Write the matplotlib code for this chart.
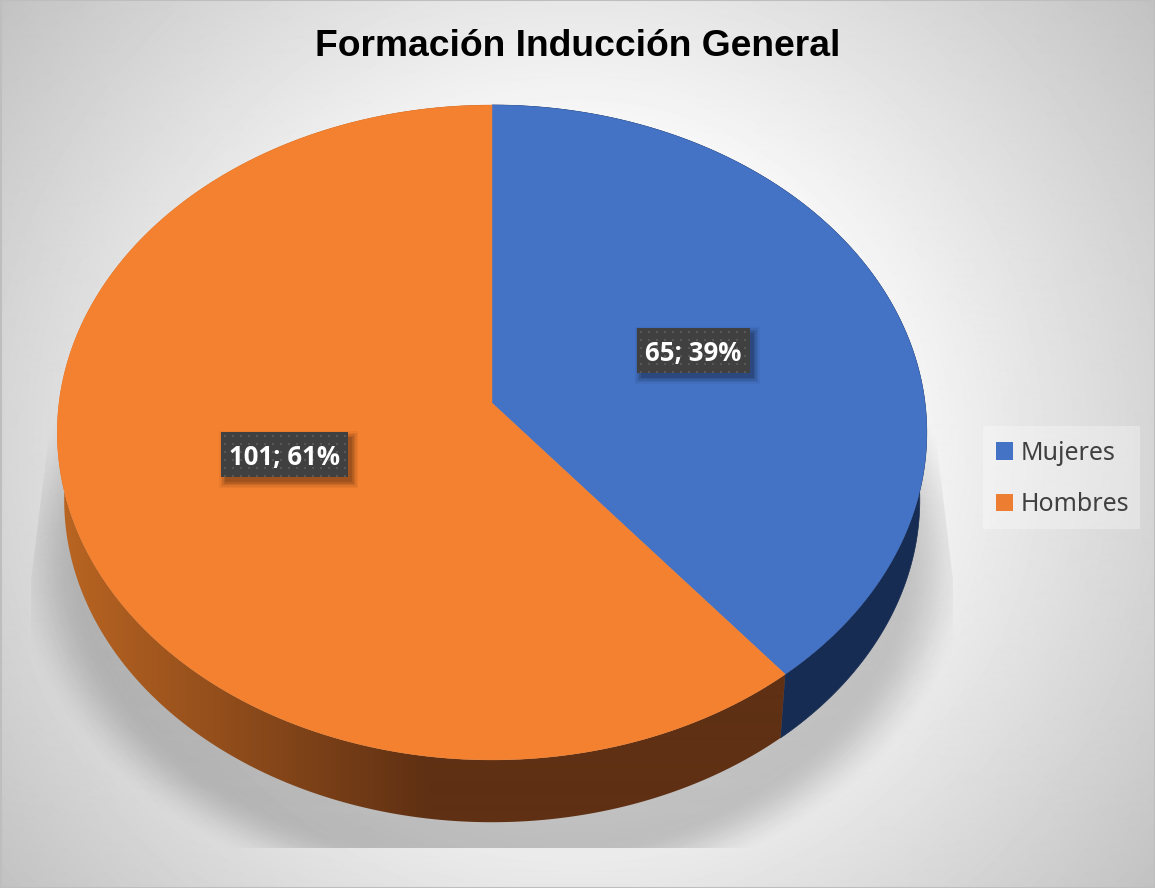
import numpy as np
import matplotlib
matplotlib.use("Agg")
import matplotlib.pyplot as plt
from matplotlib.patches import Polygon, Rectangle, Patch

# Data
categories = ["Mujeres", "Hombres"]
values = [65, 101]
percents = [39, 61]
title = "Formación Inducción General"
top_colors = ["#4472C4", "#F4812F"]
legend_colors = ["#4472C4", "#ED7D31"]

W, H = 1155, 888
fig = plt.figure(figsize=(W / 100, H / 100), dpi=100)
ax = fig.add_axes([0, 0, 1, 1])
ax.set_xlim(0, W)
ax.set_ylim(H, 0)
ax.axis("off")

# Perspective of the tilted disc
CX, CY = 492.0, 403.0
A, B, K = 433.0, 324.8, 0.09
SCALE, DROP = 0.984, 68.0


def project(x, y):
    w = 1 + K * y
    return CX + A * x / w, CY - B * y / w


def rim(a0, a1, lower=False, n=400):
    t = np.radians(np.linspace(a0, a1, n))
    px, py = project(np.sin(t), np.cos(t))
    if lower:
        px = CX + (px - CX) * SCALE
        py = CY + (py - CY) * SCALE + DROP
    return px, py


def poly(px, py):
    return np.column_stack([px, py])


# Background radial gradient
yy, xx = np.mgrid[0:H, 0:W] + 0.5
r = np.hypot(xx - 577, yy - 444)
bg = np.clip(238 - (r - 390) * 0.13, 0, 255) / 255
ax.imshow(bg, cmap="gray", vmin=0, vmax=1, extent=(0, W, H, 0), aspect="auto",
          interpolation="bilinear", zorder=0)

# Soft shadow clipped to the wall shape
d = np.hypot((xx - 492) / 482, (yy - 560) / 350)
s = np.clip((1.0 - d) / 0.15, 0, 1)
s = s * s * (3 - 2 * s)
rgba = np.zeros((H, W, 4))
rgba[..., 3] = s * 0.2
sh = ax.imshow(rgba, extent=(0, W, H, 0), aspect="auto", interpolation="bilinear", zorder=1)
clip = Polygon([(60, 345), (925, 345), (953, 580), (953, 848), (31, 848), (31, 580)],
               closed=True, transform=ax.transData, fc="none", ec="none")
ax.add_patch(clip)
sh.set_clip_path(clip)

# Angles from data
total = sum(values)
edges = np.concatenate([[0], np.cumsum(values)]) / total * 360

# Sides
bx, by = rim(edges[0], edges[1])
lx, ly = rim(edges[0], edges[1], lower=True)
ax.add_patch(Polygon(poly(np.r_[bx, lx[::-1]], np.r_[by, ly[::-1]]), closed=True,
                     fc="#172C52", ec="#172C52", lw=0.5, zorder=2))

ox, oy = rim(edges[1], edges[2])
lx, ly = rim(edges[1], edges[2], lower=True)
side = Polygon(poly(np.r_[ox, lx[::-1]], np.r_[oy, ly[::-1]]), closed=True,
               fc="none", ec="none", transform=ax.transData)
ax.add_patch(side)
tt = np.clip((xx[0] - 60) / (430 - 60), 0, 1)
c0 = np.array([0xBA, 0x65, 0x22]) / 255
c1 = np.array([0x5F, 0x30, 0x13]) / 255
grad = (c0[None, :] * (1 - tt[:, None]) + c1[None, :] * tt[:, None])[None, :, :]
im = ax.imshow(grad, extent=(0, W, H, 0), aspect="auto", interpolation="bilinear", zorder=2)
im.set_clip_path(side)

# Top faces
for i in range(len(values)):
    px, py = rim(edges[i], edges[i + 1])
    ax.add_patch(Polygon(poly(np.r_[CX, px], np.r_[CY, py]), closed=True,
                         fc=top_colors[i], ec=top_colors[i], lw=0.3, zorder=3))

# Data labels
half_w = [56.5, 63.5]
half_h = 22.5
nudge_y = [0.5, -3.5]
for i in range(len(values)):
    mid = np.radians((edges[i] + edges[i + 1]) / 2)
    lx0, ly0 = project(0.5 * np.sin(mid), 0.5 * np.cos(mid))
    ly0 += nudge_y[i]
    hw = half_w[i]
    x0, y0 = lx0 - hw, ly0 - half_h
    for g, al in zip([12, 9, 6, 3, 0], [0.04, 0.06, 0.08, 0.10, 0.12]):
        ax.add_patch(Rectangle((x0 + 4 - g / 2, y0 + 5 - g / 2), 2 * hw + g, 2 * half_h + g,
                               fc="black", ec="none", alpha=al, zorder=4))
    ax.add_patch(Rectangle((x0, y0), 2 * hw, 2 * half_h, fc="#404040", ec="none", zorder=5))
    gx, gy = np.meshgrid(np.arange(x0 + 4, x0 + 2 * hw, 8), np.arange(y0 + 4, y0 + 2 * half_h, 8))
    ax.scatter(gx.ravel(), gy.ravel(), s=2.6, marker="s", c="#575757", linewidths=0, zorder=6)
    ax.text(lx0, ly0 + 3, f"{values[i]}; {percents[i]}%", color="white", fontsize=18.5,
            fontweight="bold", family="Open Sans", ha="center", va="center", zorder=7)

# Title
ax.text(578, 46, title, fontsize=26.8, fontweight="bold", family="Liberation Sans",
        ha="center", va="center", color="black", zorder=8)

# Legend
ax.add_patch(Rectangle((983, 426), 157, 103, fc="white", ec="none", alpha=0.3, zorder=3))
handles = [Patch(fc=c, ec="none", label=l) for c, l in zip(legend_colors, categories)]
leg = ax.legend(handles=handles, loc="center left", bbox_to_anchor=(986 / W, 1 - 479 / H),
                bbox_transform=fig.transFigure, frameon=False,
                handlelength=0.68, handleheight=0.68, handletextpad=0.32,
                labelspacing=1.06, borderpad=0.4, borderaxespad=0,
                prop={"family": "Noto Sans", "size": 18})
for t in leg.get_texts():
    t.set_color("#404040")

# Frame
ax.add_patch(Rectangle((0.5, 0.5), W - 1, H - 1, fc="none", ec="#BEBEBE", lw=1.5, zorder=9))

fig.savefig("out.png", dpi=100)
